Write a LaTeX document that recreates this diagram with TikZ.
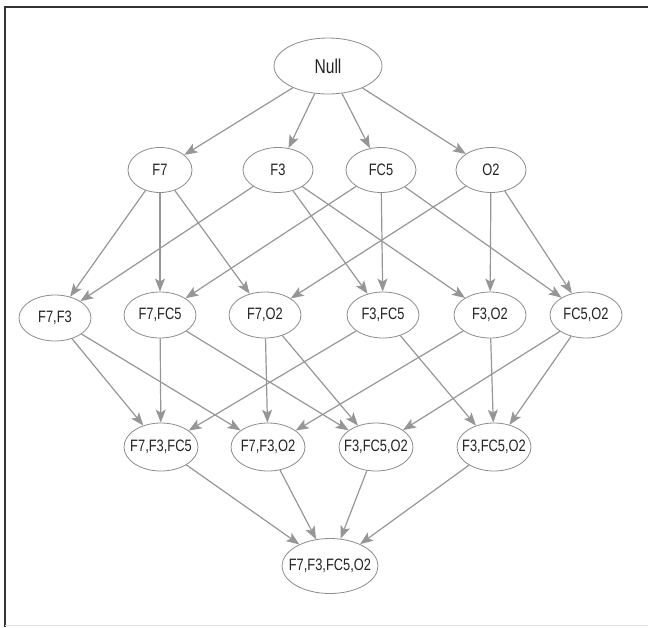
\documentclass[tikz,border=0pt]{standalone}
\usepackage{fontspec}
\setmainfont{Liberation Sans}[FakeStretch=0.78]
\usetikzlibrary{shapes.geometric,arrows.meta}
\definecolor{edgegray}{RGB}{150,150,150}
\definecolor{rimgray}{RGB}{140,140,140}
\definecolor{labelgray}{RGB}{35,35,35}
\begin{document}
\begin{tikzpicture}[x={(1pt,0pt)},y={(0pt,-1pt)},
  set/.style={ellipse,draw=rimgray,line width=0.8pt,fill=white,text=labelgray,
    font=\fontsize{16.5}{18}\selectfont,inner xsep=-14pt,inner ysep=0pt,
    minimum width=72pt,minimum height=46pt},
  link/.style={draw=edgegray,line width=1.2pt,-{Stealth[length=13pt,width=10pt,inset=3pt]}}]
        \useasboundingbox (0,0) rectangle (648,627);
        \draw[black!80,line width=1.5pt] (4,7)--(648,7);
        \draw[black!80,line width=1.5pt] (5,7)--(5,627);
        \draw[black!12,line width=1pt] (5,625)--(648,625);
        \node[set,minimum width=108pt,minimum height=56pt,font=\fontsize{20}{22}\selectfont] (null) at (328,66) {Null};
        \node[set,minimum width=64pt,minimum height=45pt] (f7) at (160,170) {F7};
        \node[set,minimum width=70pt,minimum height=45pt] (f3) at (278,170) {F3};
        \node[set,minimum width=70pt,minimum height=45pt] (fc5) at (381,170) {FC5};
        \node[set,minimum width=70pt,minimum height=45pt] (o2) at (491,170) {O2};
        \node[set] (f7f3) at (55,318) {F7,F3};
        \node[set] (f7fc5) at (160,315) {F7,FC5};
        \node[set] (f7o2) at (265,315) {F7,O2};
        \node[set] (f3fc5) at (383,315) {F3,FC5};
        \node[set] (f3o2) at (490,315) {F3,O2};
        \node[set] (fc5o2) at (586,315) {FC5,O2};
        \node[set,minimum width=74pt,minimum height=48pt] (f7f3fc5) at (161,447) {F7,F3,FC5};
        \node[set,minimum width=74pt,minimum height=48pt] (f7f3o2) at (268,447) {F7,F3,O2};
        \node[set,minimum width=74pt,minimum height=48pt] (f3fc5o2a) at (376,447) {F3,FC5,O2};
        \node[set,minimum width=74pt,minimum height=48pt] (f3fc5o2b) at (494,447) {F3,FC5,O2};
        \node[set,minimum width=96pt,minimum height=55pt] (all) at (330,566) {F7,F3,FC5,O2};
        \foreach \t in {f7,f3,fc5,o2} \draw[link] (null)--(\t);
        \draw[link] (f7)--(f7f3);
        \draw[link] (f7)--(f7fc5);
        \draw[link] (f7)--(f7o2);
        \draw[link] (f3)--(f7f3);
        \draw[link] (f3)--(f3fc5);
        \draw[link] (f3)--(f3o2);
        \draw[link] (fc5)--(f7fc5);
        \draw[link] (fc5)--(f3fc5);
        \draw[link] (fc5)--(fc5o2);
        \draw[link] (o2)--(f7o2);
        \draw[link] (o2)--(f3o2);
        \draw[link] (o2)--(fc5o2);
        \draw[link] (f7f3)--(f7f3fc5);
        \draw[link] (f7f3)--(f7f3o2);
        \draw[link] (f7fc5)--(f7f3fc5);
        \draw[link] (f7fc5)--(f3fc5o2a);
        \draw[link] (f7o2)--(f7f3o2);
        \draw[link] (f7o2)--(f3fc5o2a);
        \draw[link] (f3fc5)--(f7f3fc5);
        \draw[link] (f3fc5)--(f3fc5o2b);
        \draw[link] (f3o2)--(f7f3o2);
        \draw[link] (f3o2)--(f3fc5o2b);
        \draw[link] (fc5o2)--(f3fc5o2a);
        \draw[link] (fc5o2)--(f3fc5o2b);
        \foreach \s in {f7f3fc5,f7f3o2,f3fc5o2a,f3fc5o2b} \draw[link] (\s)--(all);
\end{tikzpicture}
\end{document}
